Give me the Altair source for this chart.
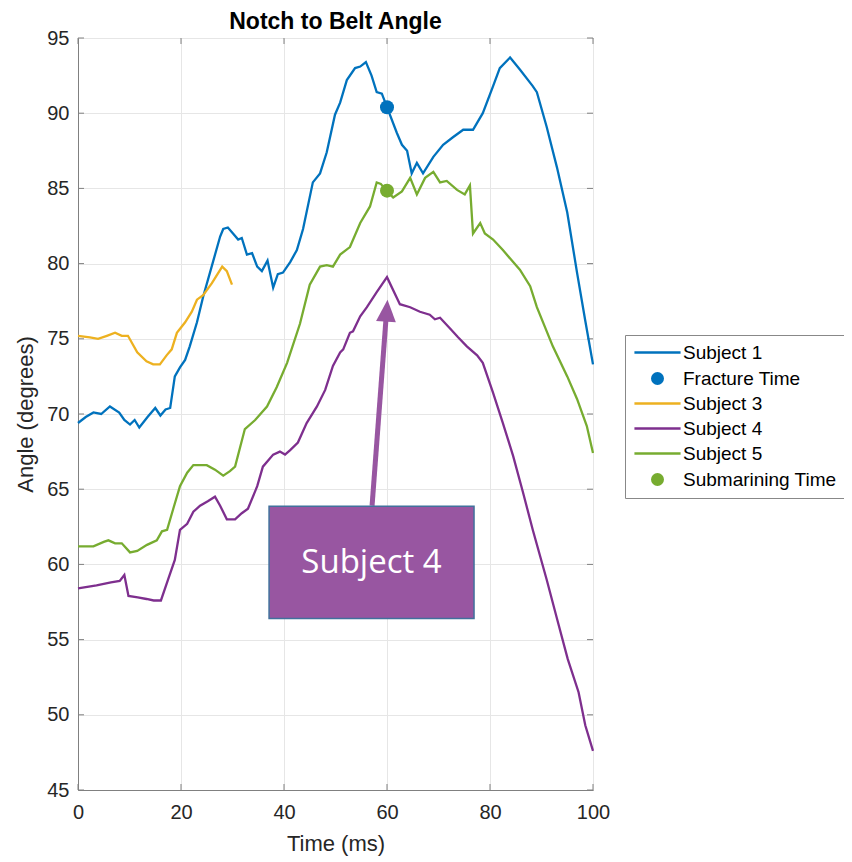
import altair as alt
import pandas as pd

# ---------------- data ----------------
t1 = [0, 1.5, 3, 4.5, 6.2, 8, 9, 10.1, 11, 11.9, 13.5, 15, 16, 17, 17.9, 18.8, 19.8, 20.8, 21.7, 23.1,
      24.3, 26.2, 27.6, 28.2, 29.1, 30.1, 31.1, 31.8, 32.8, 33.8, 34.8, 35.7, 36.8, 37.9, 38.8, 39.8,
      41.2, 42.5, 43.7, 45.6, 47, 48.3, 49.9, 50.9, 52.2, 53.8, 54.8, 55.9, 57, 58, 59, 60, 61.9, 62.9,
      63.9, 64.8, 65.8, 67, 69, 70.9, 72.8, 74.8, 76.7, 78.6, 80.6, 81.9, 83.9, 85.8, 88.3, 89.1, 91,
      93, 95, 96.9, 98.5, 100]
a1 = [69.4, 69.8, 70.1, 70.0, 70.5, 70.1, 69.6, 69.3, 69.6, 69.1, 69.8, 70.4, 69.9, 70.3, 70.4, 72.5,
      73.1, 73.6, 74.5, 76.1, 77.8, 80.1, 81.8, 82.3, 82.4, 82.0, 81.6, 81.7, 80.6, 80.7, 79.8, 79.5,
      80.2, 78.4, 79.3, 79.4, 80.1, 80.9, 82.3, 85.4, 86.0, 87.4, 89.9, 90.7, 92.2, 93.0, 93.1, 93.4,
      92.5, 91.4, 91.3, 90.4, 88.7, 87.9, 87.5, 86.0, 86.7, 86.0, 87.1, 87.9, 88.4, 88.9, 88.9, 90.0,
      91.8, 93.0, 93.7, 92.9, 91.8, 91.4, 89.1, 86.4, 83.4, 79.4, 76.2, 73.3]

t3 = [0, 2.3, 3.9, 5.6, 7.2, 8.5, 9.7, 11.5, 13.3, 14.6, 15.9, 17.2, 18.2, 19.2, 20.8, 22.1, 23.1,
      24.3, 26, 28, 28.9, 29.9]
a3 = [75.2, 75.1, 75.0, 75.2, 75.4, 75.2, 75.2, 74.1, 73.5, 73.3, 73.3, 73.9, 74.3, 75.4, 76.1, 76.8,
      77.6, 77.9, 78.7, 79.8, 79.5, 78.6]

t4 = [0, 3.6, 6.4, 8.1, 9.0, 9.8, 11.6, 13.3, 14.7, 16.1, 17.5, 18.8, 19.8, 21.2, 22.4, 23.7, 25.2,
      26.6, 27.6, 28.9, 30.5, 31.8, 33, 34.8, 35.9, 37.9, 39.2, 40.2, 41.2, 42.7, 44.4, 46.4, 48, 49.5,
      50.9, 51.5, 52.8, 53.4, 54.8, 56.1, 58, 60, 62.5, 64.5, 66.4, 68.3, 69.3, 70.3, 72.2, 73.8, 75.5,
      77.5, 78.6, 80.6, 82.5, 84.5, 86.4, 88.3, 91, 93, 95.1, 97.2, 98.5, 100]
a4 = [58.4, 58.6, 58.8, 58.9, 59.3, 57.9, 57.8, 57.7, 57.6, 57.6, 59.0, 60.3, 62.3, 62.7, 63.5, 63.9,
      64.2, 64.5, 63.9, 63.0, 63.0, 63.4, 63.7, 65.2, 66.5, 67.3, 67.5, 67.3, 67.6, 68.1, 69.4, 70.5,
      71.6, 73.2, 74.1, 74.3, 75.4, 75.5, 76.5, 77.1, 78.1, 79.1, 77.3, 77.1, 76.8, 76.6, 76.3, 76.4,
      75.7, 75.1, 74.5, 73.9, 73.4, 71.4, 69.4, 67.2, 64.8, 62.3, 59.0, 56.4, 53.7, 51.5, 49.3, 47.6]

t5 = [0, 3, 5, 5.9, 7.2, 8.5, 10.1, 11.5, 13.4, 15.3, 16.3, 17.3, 18.5, 19.8, 21.2, 22.4, 25, 26.6,
      28.2, 29.5, 30.5, 32.4, 34.4, 36.7, 38.6, 40.6, 43.1, 45, 47, 48.3, 49.5, 50.9, 52.8, 54.8, 56.7,
      58, 58.8, 60, 61.2, 62.9, 64.5, 65.8, 67.4, 69, 70.3, 71.6, 73.6, 75.1, 76.1, 76.7, 78.1, 79,
      80.6, 82.5, 84.5, 85.8, 87.8, 89.1, 92.2, 95, 96.9, 98.8, 100]
a5 = [61.2, 61.2, 61.5, 61.6, 61.4, 61.4, 60.8, 60.9, 61.3, 61.6, 62.2, 62.3, 63.7, 65.2, 66.1, 66.6,
      66.6, 66.3, 65.9, 66.2, 66.5, 69.0, 69.6, 70.5, 71.8, 73.4, 76.0, 78.6, 79.8, 79.9, 79.8, 80.6,
      81.1, 82.7, 83.8, 85.4, 85.3, 84.8, 84.4, 84.8, 85.7, 84.6, 85.7, 86.1, 85.4, 85.5, 84.9, 84.6,
      85.2, 82.0, 82.7, 82.0, 81.6, 80.9, 80.1, 79.6, 78.5, 77.1, 74.5, 72.5, 71.0, 69.2, 67.4]

event_names = ["Fracture Time", "Submarining Time"]
event_t = [60, 60]
event_a = [90.4, 84.85]

series_order = ["Subject 1", "Fracture Time", "Subject 3", "Subject 4", "Subject 5", "Submarining Time"]
series_colors = ["#0072BD", "#0072BD", "#EDB120", "#7E2F8E", "#77AC30", "#77AC30"]

x_ticks = [0, 20, 40, 60, 80, 100]
y_ticks = [45, 50, 55, 60, 65, 70, 75, 80, 85, 90, 95]

# annotation (data coordinates)
note_text = "Subject 4"
note_box_x = [37.1, 76.9]
note_box_y = [56.4, 63.86]
note_text_pos = [57.0, 60.1]
arrow_tail = [57.1, 63.9]
arrow_end = [59.8, 76.3]
arrow_head = [59.95, 76.87]
arrow_angle = 4

# ---------------- tables ----------------
lines = pd.concat([
    pd.DataFrame({"t": t1, "angle": a1, "series": "Subject 1"}),
    pd.DataFrame({"t": t3, "angle": a3, "series": "Subject 3"}),
    pd.DataFrame({"t": t4, "angle": a4, "series": "Subject 4"}),
    pd.DataFrame({"t": t5, "angle": a5, "series": "Subject 5"}),
])
events = pd.DataFrame({"t": event_t, "angle": event_a, "series": event_names})
xt = pd.DataFrame({"v": x_ticks})
yt = pd.DataFrame({"v": y_ticks})

FONT = "Liberation Sans"
AXC = "#808080"
W, H = 515, 752
isdot = "indexof(['Fracture Time','Submarining Time'], datum.value) >= 0"

legend = alt.Legend(
    title=None, orient="none", legendX=547, legendY=297,
    padding=8, symbolOffset=15, labelOffset=16, rowPadding=5,
    labelFont=FONT, labelFontSize=19, labelColor="#000000", labelLimit=400,
    symbolSize=110, symbolStrokeWidth=2.5, symbolOpacity=1,
    symbolType=alt.ExprRef(expr=f"{isdot} ? 'circle' : 'M-4.4,0L4.4,0'"),
    strokeColor="#888888", fillColor="#ffffff", cornerRadius=0,
)

color = alt.Color("series:N", scale=alt.Scale(domain=series_order, range=series_colors), legend=legend)

xscale = alt.Scale(domain=[0, 100], nice=False, zero=False)
yscale = alt.Scale(domain=[45, 95], nice=False, zero=False)

xaxis = alt.Axis(values=x_ticks, title="Time (ms)", grid=True, ticks=False, labelFlush=False,
                 labelPadding=12, titlePadding=11)
yaxis = alt.Axis(values=y_ticks, title="Angle (degrees)", labelFlush=False,
                 grid=True, ticks=False, labelPadding=9, titlePadding=9)

line_layer = alt.Chart(lines).mark_line(strokeWidth=2.3).encode(
    x=alt.X("t:Q", scale=xscale, axis=xaxis),
    y=alt.Y("angle:Q", scale=yscale, axis=yaxis),
    color=color,
)

point_layer = alt.Chart(events).mark_circle(size=196, opacity=1).encode(
    x="t:Q", y="angle:Q", color=color,
)

# inward (MATLAB-style) tick marks on all four sides
TL = 6
xt_bottom = alt.Chart(xt).mark_rule(color=AXC, strokeWidth=1).encode(
    x=alt.X("v:Q", scale=xscale), y=alt.value(H), y2=alt.value(H - TL))
xt_top = alt.Chart(xt).mark_rule(color=AXC, strokeWidth=1).encode(
    x=alt.X("v:Q", scale=xscale), y=alt.value(0), y2=alt.value(TL))
yt_left = alt.Chart(yt).mark_rule(color=AXC, strokeWidth=1).encode(
    y=alt.Y("v:Q", scale=yscale), x=alt.value(0), x2=alt.value(TL))
yt_right = alt.Chart(yt).mark_rule(color=AXC, strokeWidth=1).encode(
    y=alt.Y("v:Q", scale=yscale), x=alt.value(W), x2=alt.value(W - TL))

ann = pd.DataFrame({
    "bx": [note_box_x[0]], "bx2": [note_box_x[1]], "by": [note_box_y[0]], "by2": [note_box_y[1]],
    "tx": [note_text_pos[0]], "ty": [note_text_pos[1]], "label": [note_text],
    "ax": [arrow_tail[0]], "ay": [arrow_tail[1]], "ax2": [arrow_end[0]], "ay2": [arrow_end[1]],
    "hx": [arrow_head[0]], "hy": [arrow_head[1]],
})
PURPLE = "#9856A1"

arrow_shaft = alt.Chart(ann).mark_rule(color=PURPLE, strokeWidth=5).encode(
    x="ax:Q", y="ay:Q", x2="ax2:Q", y2="ay2:Q")
arrow_tip = alt.Chart(ann).mark_point(
    shape="M0,-1L0.9,1L-0.9,1Z", size=484, filled=True, color=PURPLE, opacity=1, angle=arrow_angle
).encode(x="hx:Q", y="hy:Q")
box = alt.Chart(ann).mark_rect(fill=PURPLE, stroke="#41719C", strokeWidth=1.5).encode(
    x="bx:Q", x2="bx2:Q", y="by:Q", y2="by2:Q")
box_text = alt.Chart(ann).mark_text(font="Open Sans", fontSize=33, color="white",
                                    align="center", baseline="middle").encode(
    x="tx:Q", y="ty:Q", text="label:N")

chart = alt.layer(
    xt_bottom, xt_top, yt_left, yt_right,
    line_layer, point_layer, arrow_shaft, arrow_tip, box, box_text
).properties(
    width=W, height=H,
    title=alt.TitleParams("Notch to Belt Angle", font=FONT, fontSize=23, fontWeight="bold",
                          color="#000000", anchor="middle", offset=0, dy=6),
    autosize=alt.AutoSizeParams(type="none"),
    padding={"left": 70, "top": 30, "right": 251, "bottom": 66},
    background="white",
).configure_view(
    stroke=AXC, strokeWidth=1
).configure_axis(
    labelFont=FONT, labelFontSize=20, labelColor="#262626",
    titleFont=FONT, titleFontSize=22, titleFontWeight="normal", titleColor="#262626",
    domainColor=AXC, domainWidth=1, gridColor="#e6e6e6", gridWidth=1,
)

chart.save("out.html", embed_options={"renderer": "svg", "actions": False})
